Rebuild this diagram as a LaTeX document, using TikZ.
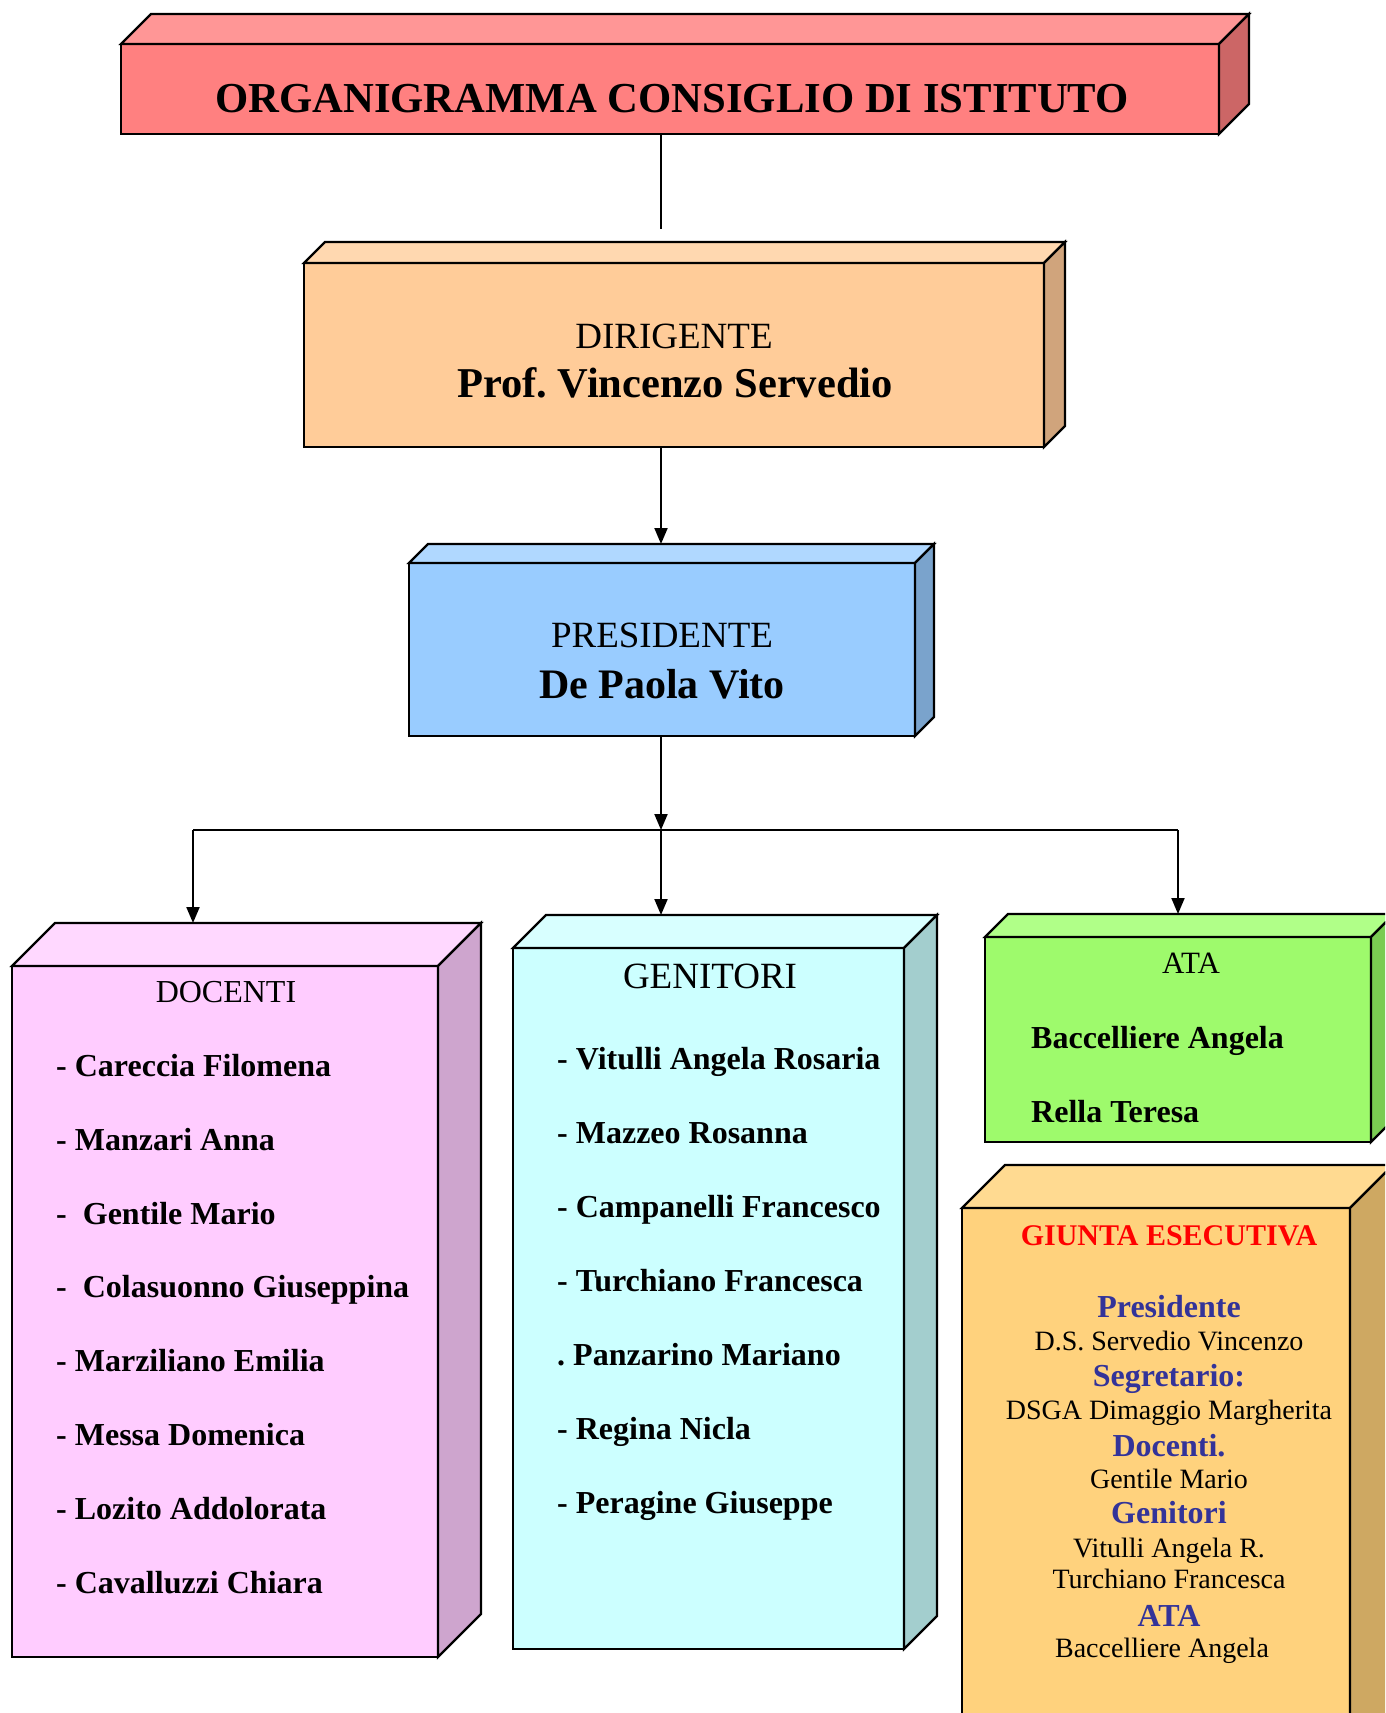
\documentclass[tikz,border=0pt]{standalone}
\usepackage{fontspec}
\setmainfont{Liberation Serif}
\frenchspacing
\usetikzlibrary{arrows.meta, calc}

\definecolor{titlefront}{RGB}{255,128,128}
\definecolor{titletop}{RGB}{255,150,150}
\definecolor{titleside}{RGB}{204,102,102}
\definecolor{dirfront}{RGB}{255,204,153}
\definecolor{dirtop}{RGB}{255,216,176}
\definecolor{dirside}{RGB}{208,164,124}
\definecolor{presfront}{RGB}{153,204,255}
\definecolor{prestop}{RGB}{176,216,255}
\definecolor{presside}{RGB}{122,163,204}
\definecolor{docfront}{RGB}{255,204,255}
\definecolor{doctop}{RGB}{255,216,255}
\definecolor{docside}{RGB}{206,165,206}
\definecolor{genfront}{RGB}{204,255,255}
\definecolor{gentop}{RGB}{216,255,255}
\definecolor{genside}{RGB}{163,206,206}
\definecolor{atafront}{RGB}{158,250,108}
\definecolor{atatop}{RGB}{176,255,136}
\definecolor{ataside}{RGB}{122,204,82}
\definecolor{giuntafront}{RGB}{255,210,125}
\definecolor{giuntatop}{RGB}{255,218,145}
\definecolor{giuntaside}{RGB}{206,168,98}
\definecolor{giuntablue}{RGB}{51,51,153}

% top and right faces of a box drawn on the front node #1
\newcommand{\boxsides}[4]{%
  \filldraw[fill=#3, rim] (#1.north west) -- ++(#2,-#2)
    -- ([shift={(#2,-#2)}]#1.north east) -- (#1.north east) -- cycle;
  \filldraw[fill=#4, rim] (#1.north east) -- ([shift={(#2,-#2)}]#1.north east)
    -- ([shift={(#2,-#2)}]#1.south east) -- (#1.south east) -- cycle;
}

\begin{document}
\begin{tikzpicture}[x=1pt, y=-1pt,
  front/.style={draw, line width=2.2pt, inner sep=0pt, outer sep=0pt, anchor=north west},
  rim/.style={line width=2.2pt},
  link/.style={line width=2pt},
  arrow/.style={link, -{Triangle[length=16pt, width=13pt]}},
  heading/.style={anchor=base, inner sep=0pt},
  item/.style={anchor=base west, inner sep=0pt, font=\fontsize{32}{38}\selectfont\bfseries},
  giunta/.style={anchor=base, inner sep=0pt, font=\fontsize{28}{32}\selectfont},
  giuntahead/.style={anchor=base, inner sep=0pt, text=giuntablue, font=\fontsize{32}{36}\selectfont\bfseries}]
  \clip (0,0) rectangle (1385,1713);

  \node[front, fill=titlefront, minimum width=1098pt, minimum height=90pt] (title) at (121,44) {};
  \boxsides{title}{30}{titletop}{titleside}
  \node[heading, font=\fontsize{42.7}{50}\selectfont\bfseries] (titletext) at (672,112) {ORGANIGRAMMA CONSIGLIO DI ISTITUTO};

  \node[front, fill=dirfront, minimum width=740pt, minimum height=184pt] (dirigente) at (304,263) {};
  \boxsides{dirigente}{21}{dirtop}{dirside}
  \node[heading, font=\fontsize{37}{42}\selectfont] (dirrole) at (674,348) {DIRIGENTE};
  \node[heading, font=\fontsize{42.5}{48}\selectfont\bfseries] (dirname) at (675,397) {Prof. Vincenzo Servedio};

  \node[front, fill=presfront, minimum width=506pt, minimum height=173pt] (presidente) at (409,563) {};
  \boxsides{presidente}{19}{prestop}{presside}
  \node[heading, font=\fontsize{37}{42}\selectfont] (presrole) at (662,647) {PRESIDENTE};
  \node[heading, font=\fontsize{42}{48}\selectfont\bfseries] (presname) at (662,698) {De Paola Vito};

  \node[front, fill=docfront, minimum width=426pt, minimum height=691pt] (docenti) at (12,966) {};
  \boxsides{docenti}{43}{doctop}{docside}
  \node[heading, font=\fontsize{32}{38}\selectfont] (docrole) at (226,1002) {DOCENTI};
  \node[item] (doc1) at (56,1076) {- Careccia Filomena};
  \node[item] (doc2) at (56,1150) {- Manzari Anna};
  \node[item] (doc3) at (56,1224) {-~ Gentile Mario};
  \node[item] (doc4) at (56,1297.5) {-~ Colasuonno Giuseppina};
  \node[item] (doc5) at (56,1371) {- Marziliano Emilia};
  \node[item] (doc6) at (56,1445) {- Messa Domenica};
  \node[item] (doc7) at (56,1519) {- Lozito Addolorata};
  \node[item] (doc8) at (56,1593) {- Cavalluzzi Chiara};

  \node[front, fill=genfront, minimum width=391pt, minimum height=701pt] (genitori) at (513,948) {};
  \boxsides{genitori}{33}{gentop}{genside}
  \node[heading, font=\fontsize{37}{42}\selectfont] (genrole) at (710,988) {GENITORI};
  \node[item] (gen1) at (557,1069) {- Vitulli Angela Rosaria};
  \node[item] (gen2) at (557,1143) {- Mazzeo Rosanna};
  \node[item] (gen3) at (557,1217) {- Campanelli Francesco};
  \node[item] (gen4) at (557,1291) {- Turchiano Francesca};
  \node[item] (gen5) at (557,1365) {. Panzarino Mariano};
  \node[item] (gen6) at (557,1439) {- Regina Nicla};
  \node[item] (gen7) at (557,1513) {- Peragine Giuseppe};

  \node[front, fill=atafront, minimum width=386pt, minimum height=205pt] (ata) at (985,937) {};
  \boxsides{ata}{23}{atatop}{ataside}
  \node[heading, font=\fontsize{31}{36}\selectfont] (atarole) at (1191,973) {ATA};
  \node[item] (ata1) at (1031,1048) {Baccelliere Angela};
  \node[item] (ata2) at (1031,1122) {Rella Teresa};

  \node[front, fill=giuntafront, minimum width=388pt, minimum height=600pt] (giunta) at (962,1208) {};
  \boxsides{giunta}{43}{giuntatop}{giuntaside}
  \node[heading, text=red, font=\fontsize{30}{34}\selectfont\bfseries] (giuntarole) at (1169,1245) {GIUNTA ESECUTIVA};
  \node[giuntahead] (gpres) at (1169,1317) {Presidente};
  \node[giunta] (gpresname) at (1169,1350) {D.S. Servedio Vincenzo};
  \node[giuntahead] (gsegr) at (1169,1386) {Segretario:};
  \node[giunta] (gsegrname) at (1169,1419) {DSGA Dimaggio Margherita};
  \node[giuntahead] (gdoc) at (1169,1456) {Docenti.};
  \node[giunta] (gdocname) at (1169,1488) {Gentile Mario};
  \node[giuntahead] (ggen) at (1169,1523) {Genitori};
  \node[giunta] (ggenname1) at (1169,1557) {Vitulli Angela R.};
  \node[giunta] (ggenname2) at (1169,1588) {Turchiano Francesca};
  \node[giuntahead] (gata) at (1169,1626) {ATA};
  \node[giunta] (gataname) at (1162,1657) {Baccelliere Angela};

  \coordinate (stub) at (661,229);
  \coordinate (bus) at (661,830);
  \coordinate (busleft) at (193,830);
  \coordinate (busright) at (1178,830);

  \draw[link] (stub |- title.south) -- (stub);
  \draw[arrow] (stub |- dirigente.south) -- ($(stub |- presidente.north)+(0,-19)$);
  \draw[arrow] (bus |- presidente.south) -- (bus);
  \draw[link] (busleft) -- (busright);
  \draw[arrow] (busleft) -- ($(busleft |- docenti.north)+(0,-43)$);
  \draw[arrow] (bus) -- ($(bus |- genitori.north)+(0,-33)$);
  \draw[arrow] (busright) -- ($(busright |- ata.north)+(0,-23)$);
\end{tikzpicture}
\end{document}
